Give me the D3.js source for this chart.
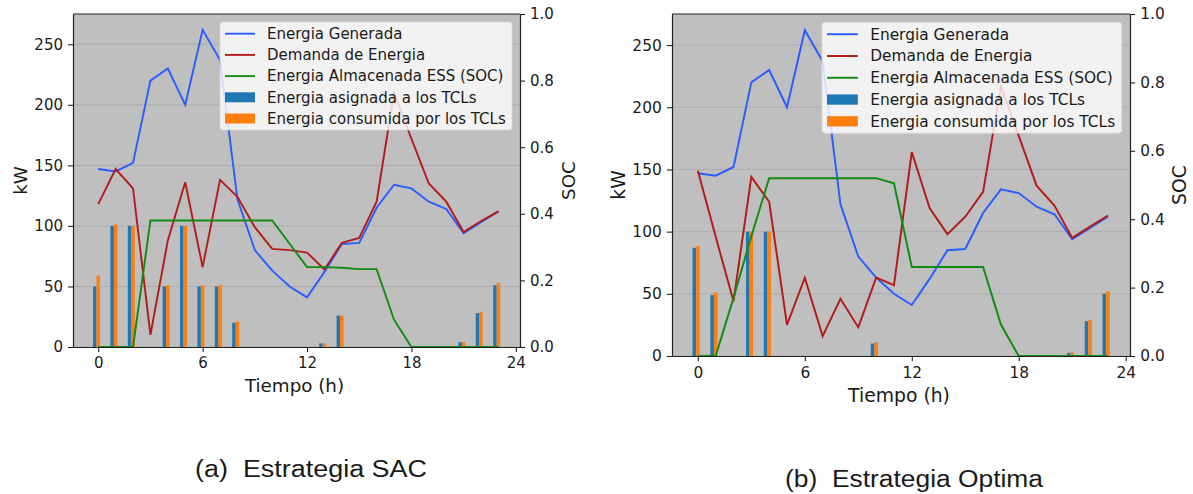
<!DOCTYPE html>
<html>
<head>
<meta charset="utf-8">
<script src="https://cdn.jsdelivr.net/npm/d3@7"></script>
<style>
  body { margin: 0; background: #fff; }
  svg { display: block; }
  text { font-family: "DejaVu Sans", sans-serif; fill: #1a1a1a; }
</style>
</head>
<body>
<div id="chart"></div>
<script>
// hours of the day (x categories)
const hours = [0, 1, 2, 3, 4, 5, 6, 7, 8, 9, 10, 11, 12, 13, 14, 15, 16, 17, 18, 19, 20, 21, 22, 23];
const xTicks = [0, 6, 12, 18, 24];
const kwTicks = [0, 50, 100, 150, 200, 250];
const socTicks = [0, 0.2, 0.4, 0.6, 0.8, 1.0];

const legendLabels = [
  "Energia Generada",
  "Demanda de Energia",
  "Energia Almacenada ESS (SOC)",
  "Energia asignada a los TCLs",
  "Energia consumida por los TCLs"
];

// same generation profile in both strategies
const generada = [147, 145, 152, 220, 230, 200, 262, 237, 122, 80, 63, 50, 41, 62, 85, 86, 115, 134, 131, 120, 114, 94, 103, 112];

// (a) SAC
const demandaSAC = [118, 147, 131, 10, 88, 136, 66, 138, 124, 99, 81, 80, 78, 64, 86, 90, 120, 210, 172, 135, 120, 95, 104, 112];
const socSAC = [0, 0, 0, 0.38, 0.38, 0.38, 0.38, 0.38, 0.38, 0.38, 0.38, 0.31, 0.24, 0.24, 0.238, 0.234, 0.234, 0.082, 0, 0, 0, 0, 0, 0];
const asignadaSAC = [50, 100, 100, 0, 50, 100, 50, 50, 20, 0, 0, 0, 0, 3, 26, 0, 0, 0, 0, 0, 0, 4, 28, 51];
const consumidaSAC = [59, 101, 100, 0, 51, 100, 51, 51, 21, 0, 0, 0, 0, 3, 26, 0, 0, 0, 0, 0, 0, 4, 29, 53];

// (b) Optima
const demandaOpt = [149, 96, 44, 144, 124, 25, 63, 16, 46, 23, 63, 57, 164, 119, 98, 112, 132, 217, 177, 137, 121, 95, 104, 113];
const socOpt = [0, 0, 0.17, 0.35, 0.52, 0.52, 0.52, 0.52, 0.52, 0.52, 0.52, 0.505, 0.26, 0.26, 0.26, 0.26, 0.26, 0.092, 0, 0, 0, 0, 0, 0];
const asignadaOpt = [87, 49, 0, 100, 100, 0, 0, 0, 0, 0, 10, 0, 0, 0, 0, 0, 0, 0, 0, 0, 0, 2.5, 28, 50];
const consumidaOpt = [88.5, 51, 0, 100, 100, 0, 0, 0, 0, 0, 11, 0, 0, 0, 0, 0, 0, 0, 0, 0, 0, 3, 29, 52];

const captions = ["(a)  Estrategia SAC", "(b)  Estrategia Optima"];

const colors = ["#2b5cff", "#b31b1b", "#138a13", "#1f77b4", "#ff7f0e"];

const W = 1193, H = 494;
const svg = d3.select("#chart").append("svg")
  .attr("width", W).attr("height", H)
  .attr("viewBox", `0 0 ${W} ${H}`);

svg.append("rect").attr("width", W).attr("height", H).attr("fill", "#fff");

function drawPanel(p, d) {
  const k = p.k;
  const x = d3.scaleLinear().domain([-1.45, 24.24]).range([p.x0, p.x1]);
  const y = d3.scaleLinear().domain([0, 275]).range([p.y1, p.y0]);
  const ySoc = d3.scaleLinear().domain([0, 1]).range([p.y1, p.y0]);
  const g = svg.append("g");

  // plot background
  g.append("rect")
    .attr("x", p.x0).attr("y", p.y0)
    .attr("width", p.x1 - p.x0).attr("height", p.y1 - p.y0)
    .attr("fill", "#bfbfbf");

  // horizontal grid on the kW ticks
  g.append("g").selectAll("line")
    .data(kwTicks)
    .join("line")
    .attr("x1", p.x0).attr("x2", p.x1)
    .attr("y1", v => y(v)).attr("y2", v => y(v))
    .attr("stroke", "#adadad").attr("stroke-width", 1);

  // bars (assigned then consumed)
  const bw = 0.2;
  const barData = [
    { vals: d.asignada, off: -0.3, color: colors[3] },
    { vals: d.consumida, off: -0.1, color: colors[4] }
  ];
  barData.forEach(b => {
    g.append("g").selectAll("rect")
      .data(hours.filter((h, i) => b.vals[i] > 0))
      .join("rect")
      .attr("x", h => x(h + b.off))
      .attr("width", x(bw) - x(0))
      .attr("y", h => y(b.vals[h]))
      .attr("height", h => y(0) - y(b.vals[h]))
      .attr("fill", b.color);
  });

  const kwLine = d3.line().x((v, i) => x(hours[i])).y(v => y(v));
  const socLine = d3.line().x((v, i) => x(hours[i])).y(v => ySoc(v));

  g.append("path").datum(d.generada)
    .attr("d", kwLine).attr("fill", "none")
    .attr("stroke", colors[0]).attr("stroke-width", 1.9 * k);
  g.append("path").datum(d.demanda)
    .attr("d", kwLine).attr("fill", "none")
    .attr("stroke", colors[1]).attr("stroke-width", 1.9 * k);
  g.append("path").datum(d.soc)
    .attr("d", socLine).attr("fill", "none")
    .attr("stroke", colors[2]).attr("stroke-width", 1.9 * k);

  // axes
  const styleAxis = sel => {
    sel.selectAll("text")
      .style("font-family", "'DejaVu Sans', sans-serif")
      .style("font-size", `${15 * k}px`)
      .attr("fill", "#1a1a1a");
    sel.selectAll("line").attr("stroke", "#222").attr("stroke-width", 1.1);
    sel.select(".domain").attr("stroke", "#222").attr("stroke-width", 1.2);
  };

  g.append("g")
    .attr("transform", `translate(0,${p.y1})`)
    .call(d3.axisBottom(x).tickValues(xTicks).tickFormat(d3.format("d"))
      .tickSize(5 * k).tickPadding(5.5 * k).tickSizeOuter(0))
    .call(styleAxis);

  g.append("g")
    .attr("transform", `translate(${p.x0},0)`)
    .call(d3.axisLeft(y).tickValues(kwTicks).tickFormat(d3.format("d"))
      .tickSize(5 * k).tickPadding(5 * k).tickSizeOuter(0))
    .call(styleAxis);

  g.append("g")
    .attr("transform", `translate(${p.x1},0)`)
    .call(d3.axisRight(ySoc).tickValues(socTicks).tickFormat(d3.format(".1f"))
      .tickSize(5 * k).tickPadding(5 * k).tickSizeOuter(0))
    .call(styleAxis);

  // top spine
  g.append("line")
    .attr("x1", p.x0).attr("x2", p.x1)
    .attr("y1", p.y0).attr("y2", p.y0)
    .attr("stroke", "#222").attr("stroke-width", 1.2);

  // axis labels
  g.append("text")
    .attr("x", (p.x0 + p.x1) / 2 - 2).attr("y", p.y1 + 45 * k)
    .attr("text-anchor", "middle")
    .style("font-size", `${18.3 * k}px`)
    .text("Tiempo (h)");
  g.append("text")
    .attr("transform", `translate(${p.x0 - 46 * k},${(p.y0 + p.y1) / 2}) rotate(-90)`)
    .attr("text-anchor", "middle")
    .style("font-size", `${18.3 * k}px`)
    .text("kW");
  g.append("text")
    .attr("transform", `translate(${p.x1 + 55 * k},${(p.y0 + p.y1) / 2}) rotate(-90)`)
    .attr("text-anchor", "middle")
    .style("font-size", `${18.3 * k}px`)
    .text("SOC");

  // legend
  const lw = 292 * k, lh = 108 * k;
  const lx = p.x1 - 8 * k - lw, ly = p.y0 + 8 * k;
  const leg = g.append("g");
  leg.append("rect")
    .attr("x", lx).attr("y", ly).attr("width", lw).attr("height", lh)
    .attr("rx", 3 * k)
    .attr("fill", "#fff").attr("fill-opacity", 0.8)
    .attr("stroke", "#d6d6d6").attr("stroke-opacity", 0.8);
  const rows = leg.selectAll("g.row")
    .data(legendLabels)
    .join("g")
    .attr("class", "row")
    .attr("transform", (t, i) => `translate(${lx},${ly + 11.7 * k + i * 21.2 * k})`);
  rows.each(function (t, i) {
    const r = d3.select(this);
    if (i < 3) {
      r.append("line")
        .attr("x1", 5 * k).attr("x2", 35 * k)
        .attr("stroke", colors[i]).attr("stroke-width", 1.9 * k);
    } else {
      r.append("rect")
        .attr("x", 5 * k).attr("y", -5 * k)
        .attr("width", 30 * k).attr("height", 10 * k)
        .attr("fill", colors[i]);
    }
    r.append("text")
      .attr("x", 47 * k).attr("y", 5.3 * k)
      .style("font-size", `${15 * k}px`)
      .text(t);
  });

  // caption under the panel
  svg.append("text")
    .attr("x", p.capX).attr("y", p.capY)
    .attr("textLength", p.capLen).attr("lengthAdjust", "spacingAndGlyphs")
    .style("white-space", "pre")
    .style("font-family", "'Liberation Sans', Arial, sans-serif")
    .style("font-size", "23px")
    .attr("fill", "#000")
    .text(p.caption);
}

drawPanel(
  { x0: 73, x1: 520, y0: 14, y1: 347, k: 1, caption: captions[0], capX: 195, capY: 477, capLen: 232 },
  { generada: generada, demanda: demandaSAC, soc: socSAC, asignada: asignadaSAC, consumida: consumidaSAC }
);
drawPanel(
  { x0: 672, x1: 1130, y0: 14, y1: 356, k: 1.027, caption: captions[1], capX: 785, capY: 487, capLen: 258 },
  { generada: generada, demanda: demandaOpt, soc: socOpt, asignada: asignadaOpt, consumida: consumidaOpt }
);
</script>
</body>
</html>
